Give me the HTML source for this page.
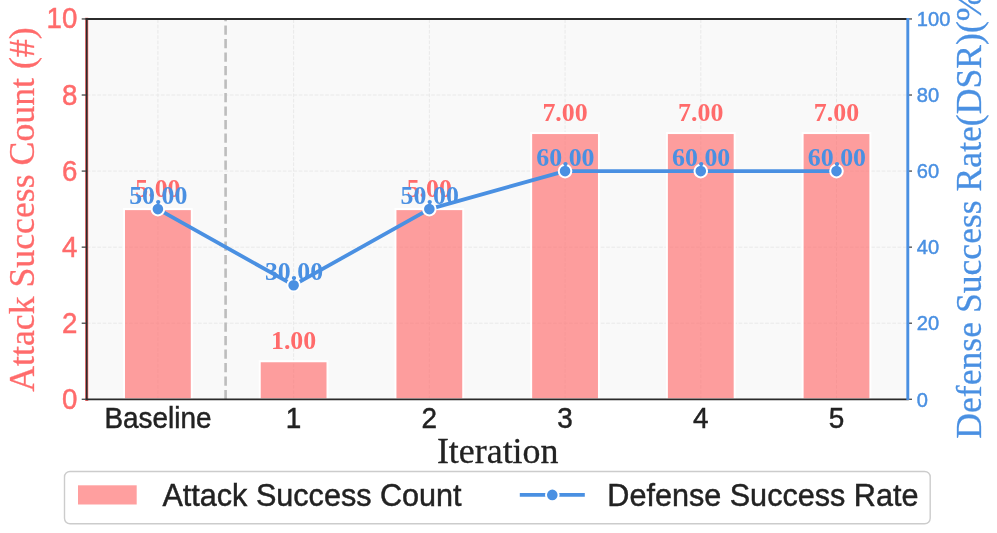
<!DOCTYPE html>
<html lang="en"><head><meta charset="utf-8"><title>Attack Success Count vs Defense Success Rate</title>
<style>
html,body{margin:0;padding:0;background:#fff;}
body{width:997px;height:533px;overflow:hidden;}
svg{display:block;}
.sans{font-family:"Liberation Sans",Arial,Helvetica,sans-serif;}
.serif{font-family:"Liberation Serif","Times New Roman",Times,serif;}
.ann{font-family:"Liberation Serif","Times New Roman",Times,serif;font-weight:bold;font-size:25.9px;text-anchor:middle;}
</style></head><body>
<svg width="997" height="533" viewBox="0 0 997 533">
<rect x="0" y="0" width="997" height="533" fill="#ffffff"/>
<rect x="86.7" y="18.95" width="821.10" height="380.35" fill="#f9f9f9"/>
<g stroke="#e9e9e9" stroke-width="1" stroke-dasharray="3.7 1.6" fill="none">
<line x1="86.7" y1="399.30" x2="907.8" y2="399.30"/>
<line x1="86.7" y1="323.23" x2="907.8" y2="323.23"/>
<line x1="86.7" y1="247.16" x2="907.8" y2="247.16"/>
<line x1="86.7" y1="171.09" x2="907.8" y2="171.09"/>
<line x1="86.7" y1="95.02" x2="907.8" y2="95.02"/>
<line x1="86.7" y1="18.95" x2="907.8" y2="18.95"/>
<line x1="157.90" y1="399.3" x2="157.90" y2="18.95"/>
<line x1="293.62" y1="399.3" x2="293.62" y2="18.95"/>
<line x1="429.34" y1="399.3" x2="429.34" y2="18.95"/>
<line x1="565.06" y1="399.3" x2="565.06" y2="18.95"/>
<line x1="700.78" y1="399.3" x2="700.78" y2="18.95"/>
<line x1="836.50" y1="399.3" x2="836.50" y2="18.95"/>
</g>
<g fill="#ff6b6b" fill-opacity="0.65" stroke="#ffffff" stroke-width="2">
<rect x="124.00" y="209.12" width="67.8" height="190.18"/>
<rect x="259.72" y="361.26" width="67.8" height="38.04"/>
<rect x="395.44" y="209.12" width="67.8" height="190.18"/>
<rect x="531.16" y="133.06" width="67.8" height="266.25"/>
<rect x="666.88" y="133.06" width="67.8" height="266.25"/>
<rect x="802.60" y="133.06" width="67.8" height="266.25"/>
</g>
<line x1="225.6" y1="399.3" x2="225.6" y2="18.95" stroke="#bdbdbd" stroke-width="2.6" stroke-dasharray="9.4 4.1"/>
<g class="ann" fill="#ff6b6b">
<text x="157.90" y="197.12">5.00</text>
<text x="293.62" y="349.26">1.00</text>
<text x="429.34" y="197.12">5.00</text>
<text x="565.06" y="121.06">7.00</text>
<text x="700.78" y="121.06">7.00</text>
<text x="836.50" y="121.06">7.00</text>
</g>
<line x1="86.7" y1="17.65" x2="86.7" y2="400.90" stroke="#ff6b6b" stroke-width="3.1"/>
<line x1="85.7" y1="399.3" x2="908.8" y2="399.3" stroke="#2b2b2b" stroke-width="1.7"/>
<g stroke="#555" stroke-width="1.4">
<line x1="81.7" y1="399.30" x2="86.7" y2="399.30"/>
<line x1="81.7" y1="323.23" x2="86.7" y2="323.23"/>
<line x1="81.7" y1="247.16" x2="86.7" y2="247.16"/>
<line x1="81.7" y1="171.09" x2="86.7" y2="171.09"/>
<line x1="81.7" y1="95.02" x2="86.7" y2="95.02"/>
<line x1="81.7" y1="18.95" x2="86.7" y2="18.95"/>
<line x1="907.8" y1="399.30" x2="912.0" y2="399.30"/>
<line x1="907.8" y1="323.23" x2="912.0" y2="323.23"/>
<line x1="907.8" y1="247.16" x2="912.0" y2="247.16"/>
<line x1="907.8" y1="171.09" x2="912.0" y2="171.09"/>
<line x1="907.8" y1="95.02" x2="912.0" y2="95.02"/>
<line x1="907.8" y1="18.95" x2="912.0" y2="18.95"/>
</g>
<polyline points="157.90,209.12 293.62,285.19 429.34,209.12 565.06,171.09 700.78,171.09 836.50,171.09" fill="none" stroke="#4a90e2" stroke-width="3.8" stroke-linejoin="round" stroke-linecap="butt"/>
<g fill="#4a90e2" stroke="#ffffff" stroke-width="2">
<circle cx="157.90" cy="209.12" r="6.3"/>
<circle cx="293.62" cy="285.19" r="6.3"/>
<circle cx="429.34" cy="209.12" r="6.3"/>
<circle cx="565.06" cy="171.09" r="6.3"/>
<circle cx="700.78" cy="171.09" r="6.3"/>
<circle cx="836.50" cy="171.09" r="6.3"/>
</g>
<text class="ann" fill="#4a90e2" x="158.30" y="203.62">50.00</text>
<text class="ann" fill="#4a90e2" x="294.02" y="279.69">30.00</text>
<text class="ann" fill="#4a90e2" x="429.74" y="203.62">50.00</text>
<text class="ann" fill="#4a90e2" x="565.46" y="165.59">60.00</text>
<text class="ann" fill="#4a90e2" x="701.18" y="165.59">60.00</text>
<text class="ann" fill="#4a90e2" x="836.90" y="165.59">60.00</text>
<line x1="86.7" y1="17.95" x2="86.7" y2="399.90000000000003" stroke="#2b2b2b" stroke-width="1.8"/>
<line x1="85.7" y1="18.95" x2="907.8" y2="18.95" stroke="#2b2b2b" stroke-width="2"/>
<line x1="907.8" y1="17.95" x2="907.8" y2="399.90000000000003" stroke="#4a90e2" stroke-width="2.9"/>
<text class="sans" font-size="27.7" fill="#ff6b6b" stroke="#ff6b6b" stroke-width="0.45" text-anchor="end" transform="translate(77.40 408.80) scale(1 1.042)">0</text>
<text class="sans" font-size="27.7" fill="#ff6b6b" stroke="#ff6b6b" stroke-width="0.45" text-anchor="end" transform="translate(77.40 332.73) scale(1 1.042)">2</text>
<text class="sans" font-size="27.7" fill="#ff6b6b" stroke="#ff6b6b" stroke-width="0.45" text-anchor="end" transform="translate(77.40 256.66) scale(1 1.042)">4</text>
<text class="sans" font-size="27.7" fill="#ff6b6b" stroke="#ff6b6b" stroke-width="0.45" text-anchor="end" transform="translate(77.40 180.59) scale(1 1.042)">6</text>
<text class="sans" font-size="27.7" fill="#ff6b6b" stroke="#ff6b6b" stroke-width="0.45" text-anchor="end" transform="translate(77.40 104.52) scale(1 1.042)">8</text>
<text class="sans" font-size="27.7" fill="#ff6b6b" stroke="#ff6b6b" stroke-width="0.45" text-anchor="end" transform="translate(77.40 28.45) scale(1 1.042)">10</text>
<text class="sans" font-size="20.1" fill="#4a90e2" stroke="#4a90e2" stroke-width="0.45" text-anchor="start" transform="translate(916.80 406.50) scale(1 1.042)">0</text>
<text class="sans" font-size="20.1" fill="#4a90e2" stroke="#4a90e2" stroke-width="0.45" text-anchor="start" transform="translate(916.80 330.43) scale(1 1.042)">20</text>
<text class="sans" font-size="20.1" fill="#4a90e2" stroke="#4a90e2" stroke-width="0.45" text-anchor="start" transform="translate(916.80 254.36) scale(1 1.042)">40</text>
<text class="sans" font-size="20.1" fill="#4a90e2" stroke="#4a90e2" stroke-width="0.45" text-anchor="start" transform="translate(916.80 178.29) scale(1 1.042)">60</text>
<text class="sans" font-size="20.1" fill="#4a90e2" stroke="#4a90e2" stroke-width="0.45" text-anchor="start" transform="translate(916.80 102.22) scale(1 1.042)">80</text>
<text class="sans" font-size="20.1" fill="#4a90e2" stroke="#4a90e2" stroke-width="0.45" text-anchor="start" transform="translate(916.80 26.15) scale(1 1.042)">100</text>
<text class="sans" font-size="27.9" fill="#222222" stroke="#222222" stroke-width="0.45" text-anchor="middle" transform="translate(157.90 427.80) scale(1 1.042)">Baseline</text>
<text class="sans" font-size="27.9" fill="#222222" stroke="#222222" stroke-width="0.45" text-anchor="middle" transform="translate(293.62 427.80) scale(1 1.042)">1</text>
<text class="sans" font-size="27.9" fill="#222222" stroke="#222222" stroke-width="0.45" text-anchor="middle" transform="translate(429.34 427.80) scale(1 1.042)">2</text>
<text class="sans" font-size="27.9" fill="#222222" stroke="#222222" stroke-width="0.45" text-anchor="middle" transform="translate(565.06 427.80) scale(1 1.042)">3</text>
<text class="sans" font-size="27.9" fill="#222222" stroke="#222222" stroke-width="0.45" text-anchor="middle" transform="translate(700.78 427.80) scale(1 1.042)">4</text>
<text class="sans" font-size="27.9" fill="#222222" stroke="#222222" stroke-width="0.45" text-anchor="middle" transform="translate(836.50 427.80) scale(1 1.042)">5</text>
<text class="serif" font-size="35.9" fill="#222222" stroke="#222222" stroke-width="0.3" text-anchor="middle" x="497.7" y="463.2">Iteration</text>
<text class="serif" font-size="35.75" fill="#ff6b6b" stroke="#ff6b6b" stroke-width="0.3" text-anchor="middle" transform="translate(34.2 209.6) rotate(-90)">Attack Success Count (#)</text>
<text class="serif" font-size="35.64" fill="#4a90e2" stroke="#4a90e2" stroke-width="0.3" text-anchor="middle" transform="translate(980.5 209.2) rotate(-90)">Defense Success Rate(DSR)(%)</text>
<rect x="64.5" y="471.5" width="865.7" height="52.3" rx="5.5" ry="5.5" fill="#ffffff" stroke="#cccccc" stroke-width="1.4"/>
<rect x="78" y="485.3" width="58.7" height="19.2" fill="#ff6b6b" fill-opacity="0.65"/>
<text class="sans" font-size="30.6" fill="#222222" stroke="#222222" stroke-width="0.45" text-anchor="start" transform="translate(162.40 505.50) scale(1 1.042)">Attack Success Count</text>
<line x1="519.8" y1="494.9" x2="584.8" y2="494.9" stroke="#4a90e2" stroke-width="3.7"/>
<circle cx="552.3" cy="494.9" r="6.3" fill="#4a90e2" stroke="#ffffff" stroke-width="2"/>
<text class="sans" font-size="30.6" fill="#222222" stroke="#222222" stroke-width="0.45" text-anchor="start" transform="translate(607.30 505.50) scale(1 1.042)">Defense Success Rate</text>
</svg>
</body></html>
